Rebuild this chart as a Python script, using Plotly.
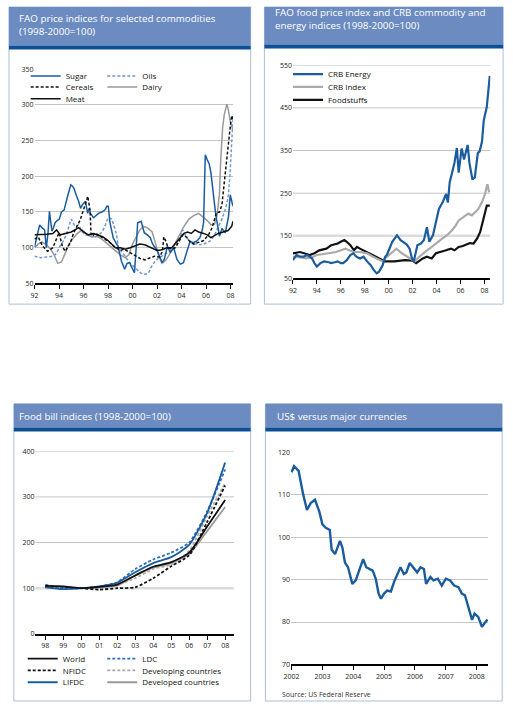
import plotly.graph_objects as go

W, H = 513, 706
FONT = "Open Sans, Noto Sans, sans-serif"

DARK_BLUE = "#1b5c9e"
LIGHT_BLUE = "#6f97cf"
MID_BLUE = "#2d6fb6"
GREY = "#999999"
LIGHT_GREY = "#aaaaaa"
BLACK = "#111111"

# ---------------- Panel 1: FAO price indices for selected commodities ----------------
sugar = [(1992.0,101),(1992.2,115),(1992.42,132),(1992.6,128),(1992.82,125),(1992.96,100),(1993.1,120),(1993.22,151),
         (1993.42,123),(1993.55,128),(1993.68,135),(1993.85,138),(1994.02,140),(1994.2,150),(1994.42,153),(1994.7,172),
         (1994.96,188),(1995.1,186),(1995.22,183),(1995.44,172),(1995.6,165),(1995.76,155),(1995.9,160),(1996.16,165),
         (1996.34,148),(1996.45,155),(1996.56,148),(1996.82,142),(1997.0,145),(1997.22,148),(1997.5,150),(1997.76,153),
         (1997.9,158),(1998.02,158),(1998.16,135),(1998.42,114),(1998.6,108),(1998.82,102),(1999.1,81),(1999.36,70),
         (1999.55,78),(1999.76,79),(1999.95,72),(2000.16,65),(2000.3,100),(2000.42,135),(2000.7,137),(2000.96,121),
         (2001.2,118),(2001.45,114),(2001.6,107),(2001.76,102),(2002.0,97),(2002.2,88),(2002.42,79),(2002.6,84),
         (2002.85,102),(2003.1,93),(2003.36,100),(2003.62,84),(2003.9,77),(2004.16,79),(2004.4,93),(2004.7,109),
         (2004.95,107),(2005.22,109),(2005.5,114),(2005.7,125),(2005.8,135),(2005.94,230),(2006.1,223),(2006.25,218),
         (2006.4,205),(2006.56,185),(2006.7,160),(2006.82,144),(2007.1,116),(2007.3,127),(2007.58,121),(2007.84,144),
         (2007.98,174),(2008.1,165),(2008.2,158)]
cereals = [(1992.0,112),(1992.3,115),(1992.67,102),(1993.07,95),(1993.5,100),(1994.0,121),(1994.27,102),(1994.5,95),
           (1994.93,107),(1995.2,121),(1995.47,130),(1995.73,139),(1996.0,153),(1996.2,165),(1996.35,172),(1996.53,153),
           (1996.61,121),(1996.75,116),(1996.93,121),(1997.2,118),(1997.5,115),(1997.8,112),(1998.1,108),(1998.4,103),
           (1998.7,100),(1999.0,96),(1999.3,98),(1999.6,95),(2000.0,90),(2000.3,88),(2000.6,85),(2001.0,83),(2001.4,86),
           (2001.8,88),(2002.2,87),(2002.45,95),(2002.55,115),(2002.7,110),(2002.9,100),(2003.2,98),(2003.5,100),
           (2003.8,110),(2004.1,118),(2004.4,115),(2004.7,108),(2005.0,105),(2005.4,108),(2005.8,110),(2006.2,118),
           (2006.5,128),(2006.85,149),(2007.1,150),(2007.3,160),(2007.5,195),(2007.65,215),(2007.8,245),(2007.95,265),
           (2008.1,285),(2008.2,280)]
meat = [(1992.0,118),(1992.5,118),(1993.0,119),(1993.5,120),(1993.8,125),(1994.1,118),(1994.5,120),(1995.0,122),
        (1995.3,125),(1995.6,128),(1996.0,122),(1996.4,118),(1996.8,120),(1997.2,118),(1997.6,115),(1998.0,110),
        (1998.3,105),(1998.6,100),(1999.0,100),(1999.4,98),(1999.8,100),(2000.2,102),(2000.6,105),(2001.0,104),
        (2001.5,100),(2002.0,96),(2002.4,97),(2002.8,100),(2003.2,100),(2003.6,108),(2003.9,115),(2004.2,120),
        (2004.5,122),(2004.8,120),(2005.1,125),(2005.4,122),(2005.8,120),(2006.1,118),(2006.4,114),(2006.7,117),
        (2007.0,120),(2007.4,122),(2007.8,124),(2008.0,128),(2008.1,130),(2008.2,137)]
oils = [(1992.0,88),(1992.5,86),(1993.0,87),(1993.5,88),(1993.8,92),(1994.0,100),(1994.3,108),(1994.6,118),(1994.9,135),
        (1995.0,140),(1995.3,130),(1995.6,132),(1995.9,122),(1996.2,118),(1996.6,116),(1997.0,115),(1997.4,120),
        (1997.7,128),(1998.0,142),(1998.3,140),(1998.5,130),(1998.7,118),(1998.85,100),(1999.1,95),(1999.4,88),
        (1999.7,80),(2000.0,75),(2000.4,68),(2000.7,64),(2001.0,63),(2001.3,64),(2001.5,72),(2001.8,80),(2002.1,85),
        (2002.4,88),(2002.7,92),(2003.0,95),(2003.3,98),(2003.6,105),(2003.9,115),(2004.1,125),(2004.3,118),
        (2004.6,110),(2004.9,106),(2005.2,105),(2005.5,104),(2005.8,105),(2006.1,108),(2006.4,110),(2006.7,118),
        (2007.0,130),(2007.3,140),(2007.6,155),(2007.8,170),(2007.95,200),(2008.1,250),(2008.2,280)]
dairy = [(1992.0,100),(1992.3,105),(1992.6,108),(1993.0,104),(1993.3,98),(1993.6,90),(1993.9,78),(1994.2,80),
         (1994.5,92),(1994.8,105),(1995.1,112),(1995.5,120),(1995.9,125),(1996.3,118),(1996.7,115),(1997.1,116),
         (1997.5,112),(1997.9,106),(1998.3,100),(1998.7,95),(1999.0,90),(1999.4,86),(1999.7,90),(2000.0,105),
         (2000.3,115),(2000.6,125),(2000.9,130),(2001.2,128),(2001.6,122),(2001.9,105),(2002.1,90),(2002.4,78),
         (2002.7,82),(2003.0,90),(2003.3,100),(2003.6,110),(2003.9,122),(2004.2,130),(2004.6,140),(2005.0,145),
         (2005.4,148),(2005.8,143),(2006.1,138),(2006.4,132),(2006.7,133),(2006.9,145),(2007.1,176),(2007.2,223),
         (2007.36,269),(2007.5,287),(2007.7,301),(2007.84,292),(2008.0,274),(2008.2,265)]
p1_ticks = [1992, 1994, 1996, 1998, 2000, 2002, 2004, 2006, 2008]
p1_ticktext = ["92", "94", "96", "98", "00", "02", "04", "06", "08"]

# ---------------- Panel 2: FAO food price index and CRB indices ----------------
crb_energy = [(1992.0,93),(1992.3,105),(1992.6,101),(1992.9,101),(1993.2,105),(1993.6,97),(1993.8,86),(1994.0,78),
              (1994.3,86),(1994.6,90),(1995.0,88),(1995.2,86),(1995.5,88),(1995.75,90),(1996.0,86),(1996.2,86),
              (1996.5,93),(1996.8,105),(1997.05,109),(1997.3,101),(1997.6,97),(1997.9,101),(1998.2,90),(1998.5,81),
              (1998.75,70),(1999.0,62),(1999.2,66),(1999.5,81),(1999.7,100),(1999.85,105),(2000.0,115),(2000.3,136),
              (2000.7,151),(2001.0,140),(2001.2,136),(2001.5,130),(2001.75,120),(2001.95,97),(2002.1,90),(2002.4,128),
              (2002.7,132),(2002.95,140),(2003.2,170),(2003.4,136),(2003.7,151),(2003.95,182),(2004.2,213),(2004.5,228),
              (2004.8,248),(2004.95,228),(2005.1,275),(2005.3,298),(2005.5,321),(2005.7,356),(2005.85,298),(2005.95,321),
              (2006.1,355),(2006.3,329),(2006.6,363),(2006.75,321),(2007.0,282),(2007.2,287),(2007.45,344),(2007.6,348),
              (2007.8,371),(2007.95,421),(2008.2,452),(2008.45,525)]
crb_index = [(1992.0,101),(1992.5,100),(1993.1,97),(1993.6,100),(1994.0,105),(1994.4,107),(1994.8,109),(1995.2,110),
             (1995.6,112),(1996.0,116),(1996.4,120),(1996.7,116),(1997.1,112),(1997.6,112),(1998.2,109),(1998.7,101),
             (1999.2,93),(1999.5,90),(1999.7,97),(2000.2,109),(2000.65,120),(2001.1,109),(2001.6,101),(2002.2,90),
             (2002.4,97),(2002.85,109),(2003.2,116),(2003.6,124),(2004.1,136),(2004.5,144),(2004.9,152),(2005.3,163),
             (2005.6,174),(2005.85,186),(2006.25,194),(2006.65,202),(2006.95,198),(2007.2,205),(2007.5,213),
             (2007.8,229),(2008.05,248),(2008.25,271),(2008.4,252)]
foodstuffs = [(1992.0,109),(1992.6,112),(1993.4,105),(1993.8,109),(1994.2,116),(1994.8,120),(1995.2,128),(1995.75,132),
              (1996.0,136),(1996.3,140),(1996.5,136),(1996.8,128),(1997.1,116),(1997.35,124),(1997.6,120),(1997.9,116),
              (1998.2,112),(1998.6,105),(1998.9,101),(1999.2,97),(1999.5,93),(1999.7,90),(2000.5,90),(2001.35,93),
              (2002.0,92),(2002.3,86),(2002.85,97),(2003.2,101),(2003.6,97),(2003.95,109),(2004.4,112),(2004.8,116),
              (2005.2,120),(2005.5,116),(2005.85,124),(2006.2,126),(2006.55,130),(2006.8,133),(2007.1,132),(2007.4,144),
              (2007.65,159),(2007.85,182),(2008.05,205),(2008.2,221),(2008.45,221)]
p2_grid = [150, 250, 350, 450, 550]

# ---------------- Panel 3: Food bill indices ----------------
p3_years = ["98", "99", "00", "01", "02", "03", "04", "05", "06", "07", "08"]
world = [105, 104, 100, 103, 108, 128, 147, 157, 178, 235, 293]
nfidc = [103, 101, 100, 97, 100, 102, 122, 148, 172, 245, 325]
lifdc = [102, 98, 100, 104, 112, 135, 155, 168, 195, 265, 375]
ldc = [108, 100, 100, 104, 113, 142, 163, 178, 200, 268, 360]
developing = [104, 100, 100, 102, 108, 122, 142, 152, 182, 258, 330]
developed = [104, 103, 100, 102, 106, 128, 145, 155, 175, 225, 278]
p3_grid = [100, 200, 300, 400]

# ---------------- Panel 4: US$ versus major currencies ----------------
usd = [(2002.0,115.3),(2002.08,116.7),(2002.23,115.6),(2002.37,110.3),(2002.5,106.4),(2002.62,108.0),(2002.76,108.8),
       (2002.9,106.0),(2003.0,103.0),(2003.11,102.2),(2003.24,101.7),(2003.3,97.0),(2003.41,96.0),(2003.57,99.1),
       (2003.65,97.5),(2003.73,94.0),(2003.83,92.9),(2003.97,89.0),(2004.08,89.8),(2004.2,92.1),(2004.32,94.8),
       (2004.42,92.9),(2004.52,92.5),(2004.63,92.1),(2004.73,90.2),(2004.82,86.7),(2004.9,85.5),(2005.0,86.7),
       (2005.1,87.4),(2005.22,87.2),(2005.32,89.4),(2005.43,91.3),(2005.53,92.9),(2005.64,91.3),(2005.72,91.7),
       (2005.83,93.9),(2005.97,92.5),(2006.07,91.7),(2006.18,92.9),(2006.29,92.5),(2006.36,89.0),(2006.5,90.6),
       (2006.6,89.8),(2006.74,90.2),(2006.87,88.6),(2007.0,90.2),(2007.14,89.8),(2007.27,88.6),(2007.41,88.2),
       (2007.52,86.7),(2007.62,86.3),(2007.72,84.0),(2007.85,80.5),(2007.93,82.0),(2008.05,81.2),(2008.17,78.9),
       (2008.25,79.7),(2008.35,80.6)]
p4_ticks = [2002, 2003, 2004, 2005, 2006, 2007, 2008]


def xs(pts):
    return [p[0] for p in pts]


def ys(pts):
    return [p[1] for p in pts]


def px(x):
    return x / W


def py(y):
    return 1 - y / H


fig = go.Figure()
legends = {}
LEG_OFFSET = 13  # distance from legend origin to the start of its line sample


def add_line(x, y, name, color, width, dash, xa, ya, leg_pos=None, shape="linear"):
    legend_id = "legend"
    if leg_pos is not None:
        n = len(legends) + 1
        legend_id = "legend" if n == 1 else "legend%d" % n
        legends[legend_id] = dict(
            orientation="h", x=px(leg_pos[0] - LEG_OFFSET), y=py(leg_pos[1]), xanchor="left", yanchor="middle",
            bgcolor="rgba(0,0,0,0)", borderwidth=0,
            font=dict(family=FONT, size=8, color="#111111"))
    fig.add_trace(go.Scatter(
        x=x, y=y, name=name, mode="lines",
        line=dict(color=color, width=width, dash=dash, shape=shape, smoothing=0.6),
        xaxis=xa, yaxis=ya, legend=legend_id, showlegend=leg_pos is not None,
        hoverinfo="skip"))


D = "3px,2px"
# Panel 1 (drawing order: back to front); legend sample positions in pixels
add_line(xs(dairy), ys(dairy), "Dairy", GREY, 1.5, "solid", "x", "y", (110, 83))
add_line(xs(oils), ys(oils), "Oils", LIGHT_BLUE, 1.5, D, "x", "y", (110, 72))
add_line(xs(sugar), ys(sugar), "Sugar", DARK_BLUE, 1.5, "solid", "x", "y", (32, 72))
add_line(xs(meat), ys(meat), "Meat", BLACK, 1.5, "solid", "x", "y", (32, 95))
add_line(xs(cereals), ys(cereals), "Cereals", BLACK, 1.5, D, "x", "y", (32, 83))

# Panel 2
add_line(xs(foodstuffs), ys(foodstuffs), "Foodstuffs", BLACK, 2.2, "solid", "x2", "y2", (299, 96))
add_line(xs(crb_index), ys(crb_index), "CRB Index", LIGHT_GREY, 2.2, "solid", "x2", "y2", (299, 83))
add_line(xs(crb_energy), ys(crb_energy), "CRB Energy", DARK_BLUE, 2.2, "solid", "x2", "y2", (299, 70))

# Panel 3
add_line(p3_years, developed, "Developed countries", GREY, 1.8, "solid", "x3", "y3", (110, 686), shape="spline")
add_line(p3_years, developing, "Developing countries", LIGHT_GREY, 1.8, D, "x3", "y3", (110, 674), shape="spline")
add_line(p3_years, nfidc, "NFIDC", BLACK, 1.8, D, "x3", "y3", (29, 674), shape="spline")
add_line(p3_years, ldc, "LDC", MID_BLUE, 1.8, D, "x3", "y3", (110, 662), shape="spline")
add_line(p3_years, lifdc, "LIFDC", DARK_BLUE, 1.8, "solid", "x3", "y3", (29, 686), shape="spline")
add_line(p3_years, world, "World", BLACK, 1.8, "solid", "x3", "y3", (29, 662), shape="spline")

# Panel 4
add_line(xs(usd), ys(usd), "US$", DARK_BLUE, 2.4, "solid", "x4", "y4")

tickfont = dict(family=FONT, size=7, color="#222222")
GRID = "#c4c4c4"


def xaxis(domain_px, rng, tickvals, ticktext, anchor, cat=False):
    d = dict(domain=[px(domain_px[0]), px(domain_px[1])], range=rng, anchor=anchor,
             tickvals=tickvals, ticktext=ticktext, ticks="outside", ticklen=4, tickwidth=1,
             tickcolor="#000000", showline=True, linecolor="#000000", linewidth=1.5,
             showgrid=False, zeroline=False, tickfont=tickfont, fixedrange=True)
    if cat:
        d["type"] = "category"
        d.pop("ticktext")
        d.pop("tickvals")
    return d


def yaxis(domain_px, rng, dtick, anchor, grid=True):
    return dict(domain=[py(domain_px[1]), py(domain_px[0])], range=rng, anchor=anchor, dtick=dtick,
                tick0=rng[0], showgrid=grid, gridcolor=GRID, gridwidth=1, zeroline=False,
                showline=False, ticks="", tickfont=tickfont, fixedrange=True)


layout = dict(
    width=W, height=H, autosize=False,
    margin=dict(l=0, r=0, t=0, b=0),
    paper_bgcolor="white", plot_bgcolor="rgba(0,0,0,0)",
    font=dict(family=FONT),
    xaxis=xaxis((28, 230), [1992, 2008.2], p1_ticks, p1_ticktext, "y"),
    yaxis=yaxis((65, 282), [50, 350], 50, "x"),
    xaxis2=xaxis((291, 492), [1992, 2008.5], p1_ticks, p1_ticktext, "y2"),
    yaxis2=yaxis((61, 277), [50, 550], 100, "x2", grid=False),
    xaxis3=xaxis((29, 231), [-0.546, 10.49], None, None, "y3", cat=True),
    yaxis3=yaxis((452, 637), [0, 400], 100, "x3", grid=False),
    xaxis4=xaxis((289, 490), [2001.98, 2008.38], p4_ticks, [str(t) for t in p4_ticks], "y4"),
    yaxis4=yaxis((453, 668), [70, 120], 10, "x4"),
)
layout.update(legends)
fig.update_layout(**layout)

HEADER = "#6c8cc1"
STRIPE = "#0c4f95"
BORDER = "#a9bfd9"
panels = [
    # x0, x1, y0, y1, header bottom
    (2, 248, 2, 303, 41),
    (262, 505, 2, 303, 40),
    (7, 248, 404, 705, 428),
    (263, 504, 404, 705, 428),
]
shapes = []
for x0, x1, y0, y1, hb in panels:
    shapes.append(dict(type="rect", xref="paper", yref="paper", x0=px(x0), x1=px(x1), y0=py(y1), y1=py(y0),
                       fillcolor="white", line=dict(color=BORDER, width=1), layer="below"))
    shapes.append(dict(type="rect", xref="paper", yref="paper", x0=px(x0), x1=px(x1), y0=py(hb), y1=py(y0),
                       fillcolor=HEADER, line=dict(width=0), layer="below"))
    shapes.append(dict(type="rect", xref="paper", yref="paper", x0=px(x0), x1=px(x1), y0=py(hb + 4), y1=py(hb),
                       fillcolor=STRIPE, line=dict(width=0), layer="below"))
# gridlines for panels 2 and 3 (first one emphasised as in the original)
for ax, grid in (("2", p2_grid), ("3", p3_grid)):
    for i, v in enumerate(grid):
        shapes.append(dict(type="line", xref="x%s domain" % ax, yref="y%s" % ax, x0=0, x1=1, y0=v, y1=v,
                           line=dict(color="#dcdcdc" if i == 0 else GRID, width=2.5 if i == 0 else 1),
                           layer="below"))

titlefont = dict(family=FONT, size=9.8, color="white")
annotations = [
    dict(text="FAO price indices for selected commodities", x=px(10), y=py(14)),
    dict(text="(1998-2000=100)", x=px(10), y=py(27)),
    dict(text="FAO food price index and CRB commodity and", x=px(271), y=py(8)),
    dict(text="energy indices (1998-2000=100)", x=px(271), y=py(21)),
    dict(text="Food bill indices (1998-2000=100)", x=px(10), y=py(417)),
    dict(text="US$ versus major currencies", x=px(273), y=py(417)),
]
for a in annotations:
    a.update(xref="paper", yref="paper", xanchor="left", yanchor="middle", showarrow=False, font=titlefont)
annotations.append(dict(text="Source: US Federal Reserve", x=px(278), y=py(698), xref="paper", yref="paper",
                        xanchor="left", yanchor="middle", showarrow=False,
                        font=dict(family=FONT, size=7, color="#333333")))

fig.update_layout(shapes=shapes, annotations=annotations)

fig.write_html("out.html", config={"displayModeBar": False},
               post_script="document.body.style.margin='0px';document.body.style.padding='0px';")
